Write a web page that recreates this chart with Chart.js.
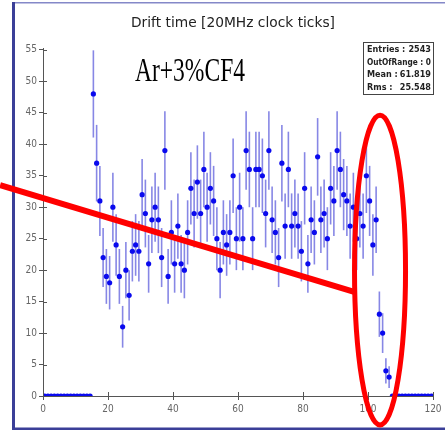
<!DOCTYPE html>
<html>
<head>
<meta charset="utf-8">
<script src="https://cdn.jsdelivr.net/npm/chart.js@4.4.1/dist/chart.umd.min.js"></script>
<style>
  html, body { margin: 0; padding: 0; background: #fff; }
</style>
</head>
<body>
<canvas id="drift" width="445" height="430"></canvas>
<script>
const title = "Drift time [20MHz clock ticks]"
const gasLabel = "Ar+3%CF4"

// bin contents, one bin per clock tick from 0 to 120
const counts = [
  0, 0, 0, 0, 0, 0, 0, 0, 0, 0, 0, 0, 0, 0, 0,
  48, 37, 31, 22, 19, 18, 30, 24, 19, 11,
  20, 16, 23, 24, 23, 32, 29, 21, 28, 30,
  28, 22, 39, 19, 26, 21, 27, 21, 20, 26,
  33, 29, 34, 29, 36, 30, 33, 31, 25, 20,
  26, 24, 26, 35, 25, 30, 25, 39, 36, 25,
  36, 36, 35, 29, 39, 28, 26, 22, 37, 27,
  36, 27, 29, 27, 23, 33, 21, 28, 26, 38,
  28, 29, 25, 33, 31, 39, 36, 32, 31, 27,
  30, 25, 29, 27, 35, 31, 24, 28, 13, 10,
  4, 3,
  0, 0, 0, 0, 0, 0, 0, 0, 0, 0, 0, 0, 0
]

const xTicks = [0, 20, 40, 60, 80, 100, 120]
const yTicks = [0, 5, 10, 15, 20, 25, 30, 35, 40, 45, 50, 55]

const statNames = ["Entries :", "OutOfRange : 0", "Mean :", "Rms :"]
const statValues = ["2543", "", "61.819", "25.548"]

const points = counts.map((n, i) => ({ x: i + 0.5, y: n }))

// draw text squeezed to a given width (the original picture is condensed)
function fitText(ctx, text, x, y, font, width, align) {
  ctx.save()
  ctx.font = font
  const k = width / ctx.measureText(text).width
  ctx.translate(x, y)
  ctx.scale(k, 1)
  ctx.textAlign = align
  ctx.fillText(text, 0, 0)
  ctx.restore()
}

// poisson error bars under the markers
const errorBars = {
  id: "errorBars",
  beforeDatasetsDraw(c) {
    const { ctx, scales: { x, y } } = c
    ctx.save()
    ctx.strokeStyle = "rgba(95,95,220,0.75)"
    ctx.lineWidth = 1.6
    counts.forEach((n, i) => {
      if (!n) return
      const e = Math.sqrt(n)
      const px = x.getPixelForValue(i + 0.5)
      ctx.beginPath()
      ctx.moveTo(px, y.getPixelForValue(n + e))
      ctx.lineTo(px, y.getPixelForValue(n - e))
      ctx.stroke()
    })
    ctx.restore()
  }
}

// ROOT style ticks go through the axis, add the inner half
const innerTicks = {
  id: "innerTicks",
  afterDraw(c) {
    const { ctx, chartArea: a, scales: { x, y } } = c
    ctx.save()
    ctx.strokeStyle = "#555"
    ctx.lineWidth = 1
    x.ticks.forEach((t) => {
      const px = Math.round(x.getPixelForValue(t.value)) + 0.5
      ctx.beginPath(); ctx.moveTo(px, a.bottom); ctx.lineTo(px, a.bottom - 4); ctx.stroke()
    })
    y.ticks.forEach((t) => {
      const py = Math.round(y.getPixelForValue(t.value)) + 0.5
      ctx.beginPath(); ctx.moveTo(a.left, py); ctx.lineTo(a.left + 4, py); ctx.stroke()
    })
    ctx.restore()
  }
}

const decorations = {
  id: "decorations",
  beforeDraw(c) {
    const ctx = c.ctx
    ctx.save()
    ctx.fillStyle = "#fff"
    ctx.fillRect(0, 0, c.width, c.height)
    // window frame
    ctx.fillStyle = "#8488c8"
    ctx.fillRect(12, 2, 433, 1.5)
    ctx.fillStyle = "#3b3f98"
    ctx.fillRect(12, 2, 3, 427)
    ctx.fillRect(12, 427.5, 433, 2.5)
    ctx.restore()
  },
  afterDraw(c) {
    const { ctx, scales: { x, y } } = c
    ctx.save()
    ctx.fillStyle = "#222"
    fitText(ctx, title, 233, 27, '14px "DejaVu Sans"', 204, "center")

    // stats box
    ctx.strokeStyle = "#444"
    ctx.lineWidth = 1
    ctx.strokeRect(363.5, 42.5, 70, 52)
    const rows = [52, 65, 77, 89.5]
    statNames.forEach((s, i) => {
      ctx.font = 'bold 9px "DejaVu Sans Condensed", "DejaVu Sans"'
      ctx.textAlign = "left"
      if (statValues[i] === "") {
        fitText(ctx, s, 367, rows[i], 'bold 9px "DejaVu Sans Condensed", "DejaVu Sans"', 64, "left")
      } else {
        ctx.fillText(s, 367, rows[i])
        ctx.textAlign = "right"
        ctx.fillText(statValues[i], 431, rows[i])
      }
    })

    ctx.fillStyle = "#000"
    fitText(ctx, gasLabel, 135, 81, '34px "Liberation Serif"', 110, "left")

    // red annotation: pointer line and ellipse around the falling edge
    ctx.strokeStyle = "#ff0000"
    ctx.lineWidth = 6
    ctx.beginPath()
    ctx.moveTo(x.getPixelForValue(-13.2), y.getPixelForValue(33.5))
    ctx.lineTo(x.getPixelForValue(96.0), y.getPixelForValue(16.5))
    ctx.stroke()
    const cx = x.getPixelForValue(103.7)
    const cy = y.getPixelForValue(20.0)
    const rx = x.getPixelForValue(103.7 + 7.85) - cx
    const ry = cy - y.getPixelForValue(20.0 + 24.6)
    ctx.lineWidth = 5
    ctx.beginPath()
    ctx.ellipse(cx, cy, rx, ry, 0, 0, Math.PI * 2)
    ctx.stroke()
    ctx.restore()
  }
}

const tickFont = { family: '"DejaVu Sans Condensed", "DejaVu Sans"', size: 10 }

new Chart(document.getElementById("drift"), {
  type: "scatter",
  data: {
    datasets: [{
      data: points,
      pointRadius: 2.6,
      pointHoverRadius: 2.6,
      backgroundColor: "#0a0aee",
      borderWidth: 0,
      showLine: false
    }]
  },
  options: {
    responsive: false,
    animation: false,
    devicePixelRatio: 1,
    layout: { padding: { left: 0, right: 12, top: 48, bottom: 0 } },
    plugins: { legend: { display: false }, tooltip: { enabled: false } },
    scales: {
      x: {
        type: "linear",
        min: 0,
        max: 120,
        afterBuildTicks: (s) => { s.ticks = xTicks.map((v) => ({ value: v })) },
        afterFit: (s) => { s.height = 34 },
        grid: { drawOnChartArea: false, tickLength: 4, color: "#555" },
        border: { color: "#555", width: 1 },
        ticks: { color: "#666", font: tickFont, padding: 3, maxRotation: 0 }
      },
      y: {
        min: 0,
        max: 55.3,
        afterBuildTicks: (s) => { s.ticks = yTicks.map((v) => ({ value: v })) },
        afterFit: (s) => { s.width = 43 },
        grid: { drawOnChartArea: false, tickLength: 4, color: "#555" },
        border: { color: "#555", width: 1 },
        ticks: { color: "#666", font: tickFont, padding: 2 }
      }
    }
  },
  plugins: [decorations, errorBars, innerTicks]
})
</script>
</body>
</html>
